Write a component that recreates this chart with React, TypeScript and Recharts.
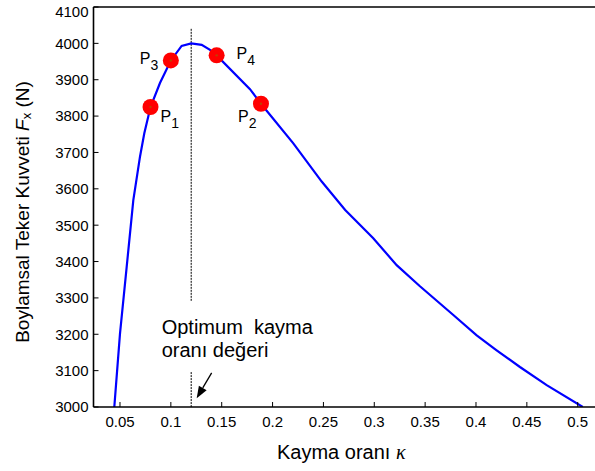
import React from 'react';
import { ComposedChart, Line, Scatter, XAxis, YAxis, ReferenceLine, ReferenceDot } from 'recharts';

// slip ratio vs longitudinal tyre force
const kappa = [
  0.0444, 0.05, 0.0566, 0.0631, 0.0697, 0.0739, 0.08, 0.0893, 0.1, 0.1106, 0.12,
  0.1303, 0.1385, 0.145, 0.1778, 0.1886, 0.2204, 0.2483, 0.2714, 0.299, 0.322,
  0.3449, 0.3777, 0.4007, 0.4203, 0.4432, 0.4695, 0.505,
];
const fx = [
  3000, 3202, 3386, 3569, 3689, 3753, 3825, 3891, 3953, 3993, 4000,
  3996, 3982, 3967, 3874, 3834, 3725, 3620, 3542, 3464, 3390,
  3332, 3253, 3197, 3156, 3110, 3060, 3000,
];

// marked operating points P1..P4
const pointNames = ['1', '3', '4', '2'];
const pointKappa = [0.08, 0.1, 0.145, 0.1886];
const pointFx = [3825, 3953, 3967, 3834];

const xTicks = [0.05, 0.1, 0.15, 0.2, 0.25, 0.3, 0.35, 0.4, 0.45, 0.5];
const yTicks = [3000, 3100, 3200, 3300, 3400, 3500, 3600, 3700, 3800, 3900, 4000, 4100];

const optimumKappa = 0.12;

const curve = kappa.map((k, i) => ({ kappa: k, fx: fx[i] }));
const points = pointKappa.map((k, i) => ({ kappa: k, fx: pointFx[i], name: pointNames[i] }));

const FONT = '"Liberation Sans", Arial, Helvetica, sans-serif';

// where each "P" label sits relative to its marker
const labelOffset: Record<string, [number, number]> = {
  '1': [10, 15],
  '3': [-31, 4],
  '4': [20, 4],
  '2': [-23, 18],
};

const PointMarker = (props: any) => {
  const { cx, cy, payload } = props;
  const [dx, dy] = labelOffset[payload.name] || [10, 10];
  return (
    <g>
      <circle cx={cx} cy={cy} r={8} fill="#ff0000" />
      <circle cx={cx} cy={cy} r={1.2} fill="#c04000" />
      <text x={cx + dx} y={cy + dy} fontFamily={FONT} fontSize={16} fill="#000">
        P<tspan dy={6} fontSize={14}>{payload.name}</tspan>
      </text>
    </g>
  );
};

const Arrow = (props: any) => {
  const { x1, y1, x2, y2 } = props;
  const len = Math.hypot(x2 - x1, y2 - y1);
  const ux = (x2 - x1) / len;
  const uy = (y2 - y1) / len;
  const head = 12;
  const half = 4.5;
  const bx = x2 - ux * head;
  const by = y2 - uy * head;
  return (
    <g>
      <line x1={x1} y1={y1} x2={bx} y2={by} stroke="#000" strokeWidth={1.3} />
      <polygon
        points={`${x2},${y2} ${bx - uy * half},${by + ux * half} ${bx + uy * half},${by - ux * half}`}
        fill="#000"
      />
    </g>
  );
};

const OptimumNote = (props: any) => {
  const { cx, cy } = props;
  return (
    <text x={cx} y={cy} fontFamily={FONT} fontSize={20} fill="#000" style={{ whiteSpace: 'pre' }}>
      <tspan x={cx}>Optimum  kayma</tspan>
      <tspan x={cx} dy={23}>oranı değeri</tspan>
    </text>
  );
};

// the top label is nudged down so it stays inside the figure
const YTick = (props: any) => {
  const { x, y, payload } = props;
  const shift = payload.value === yTicks[yTicks.length - 1] ? 5 : 0;
  return (
    <text x={x} y={y + shift} dy="0.355em" textAnchor="end" fontFamily={FONT} fontSize={15} fill="#000">
      {payload.value}
    </text>
  );
};

const YLabel = (props: any) => {
  const { viewBox } = props;
  const x = viewBox.x + 22;
  const y = viewBox.y + viewBox.height / 2 + 5;
  return (
    <text
      x={x}
      y={y}
      transform={`rotate(-90, ${x}, ${y})`}
      textAnchor="middle"
      dominantBaseline="central"
      fontFamily={FONT}
      fontSize={19}
      fill="#000"
    >
      Boylamsal Teker Kuvveti <tspan fontStyle="italic">F</tspan>
      <tspan fontSize={13} dy={4}>x</tspan>
      <tspan dy={-4}> (N)</tspan>
    </text>
  );
};

const XLabel = (props: any) => {
  const { viewBox } = props;
  const x = viewBox.x + viewBox.width / 2 - 3;
  const y = viewBox.y + 52;
  return (
    <text x={x} y={y} textAnchor="middle" fontFamily={FONT} fontSize={20} fill="#000">
      Kayma oranı{' '}
      <tspan fontFamily='"Liberation Serif", "Times New Roman", serif' fontStyle="italic">κ</tspan>
    </text>
  );
};

const tickStyle = { fontFamily: FONT, fontSize: 15, fill: '#000' };
const axisLine = { stroke: '#000', strokeWidth: 1.6 };
const tickLine = { stroke: '#000', strokeWidth: 1 };

export default function App() {
  return (
    <div style={{ position: 'absolute', left: 0, top: 0, width: 595, height: 471, background: '#fff' }}>
      <ComposedChart width={595} height={471} margin={{ top: 6, right: 0, bottom: 0, left: 0 }}>
        <XAxis
          xAxisId="top"
          orientation="top"
          type="number"
          dataKey="kappa"
          domain={[0.02395, 0.517]}
          allowDataOverflow
          ticks={xTicks}
          interval={0}
          tick={false}
          tickSize={-5}
          height={1}
          axisLine={axisLine}
          tickLine={tickLine}
        />
        <XAxis
          type="number"
          dataKey="kappa"
          domain={[0.02395, 0.517]}
          allowDataOverflow
          ticks={xTicks}
          interval={0}
          tickFormatter={(v) => String(v)}
          tick={tickStyle}
          tickSize={-5}
          tickMargin={14}
          height={64}
          axisLine={axisLine}
          tickLine={tickLine}
          label={<XLabel />}
        />
        <YAxis
          type="number"
          domain={[3000, 4100]}
          allowDataOverflow
          ticks={yTicks}
          interval={0}
          tick={<YTick />}
          tickSize={-5}
          tickMargin={10}
          width={93.5}
          axisLine={axisLine}
          tickLine={tickLine}
          label={<YLabel />}
        />
        <ReferenceLine
          segment={[{ x: optimumKappa, y: 4040 }, { x: optimumKappa, y: 3290 }]}
          stroke="#000"
          strokeWidth={1}
          strokeDasharray="2 1"
        />
        <ReferenceLine
          segment={[{ x: optimumKappa, y: 3096 }, { x: optimumKappa, y: 3000 }]}
          stroke="#000"
          strokeWidth={1}
          strokeDasharray="2 1"
        />
        <ReferenceLine
          segment={[{ x: 0.1401, y: 3094 }, { x: 0.1254, y: 3024 }]}
          shape={<Arrow />}
        />
        <ReferenceDot x={0.091} y={3202} r={0} shape={<OptimumNote />} />
        <Line
          data={curve}
          dataKey="fx"
          type="linear"
          stroke="#0000ff"
          strokeWidth={2.2}
          dot={false}
          activeDot={false}
          isAnimationActive={false}
        />
        <Scatter data={points} dataKey="fx" shape={<PointMarker />} isAnimationActive={false} />
      </ComposedChart>
    </div>
  );
}
